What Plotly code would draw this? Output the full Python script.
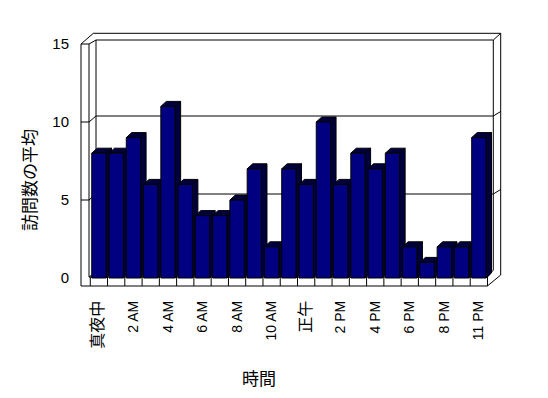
import plotly.graph_objects as go

# ---- data ----
categories = ["真夜中", "1 AM", "2 AM", "3 AM", "4 AM", "5 AM", "6 AM", "7 AM",
              "8 AM", "9 AM", "10 AM", "11 AM", "正午", "1 PM", "2 PM", "3 PM",
              "4 PM", "5 PM", "6 PM", "7 PM", "8 PM", "9 PM", "11 PM"]
visits = [8, 8, 9, 6, 11, 6, 4, 4, 5, 7, 2, 7, 6, 10, 6, 8, 7, 8, 2, 1, 2, 2, 9]
y_ticks = [0, 5, 10, 15]
x_title = "時間"
y_title = "訪問数の平均"

# ---- geometry (screen pixels; page body has an 8px margin) ----
PAGE_OFF = 8
W, H = 548 - PAGE_OFF, 398 - PAGE_OFF
L, R, T, B = 80, 502, 30, 290
X0PX, XSTEP = 98.9, 17.27
Y0PX, YSTEP = 278.0, 15.6


def px2x(px):
    return (px - X0PX) / XSTEP


def py2y(py):
    return (Y0PX - py) / YSTEP


xr = [px2x(L), px2x(R)]
yr = [py2y(B), py2y(T)]
n = len(visits)
BW = 14.3 / XSTEP
DX = 5.5 / XSTEP
DY = 5.0 / YSTEP
FRONT = "#000080"
DARK = "#00003c"

# side and top faces (computed from values)
sx, sy, tx, ty = [], [], [], []
for i, v in enumerate(visits):
    x0, x1 = i - BW / 2, i + BW / 2
    sx += [x1, x1 + DX, x1 + DX, x1, x1, None]
    sy += [0, DY, v + DY, v, 0, None]
    tx += [x0, x0 + DX, x1 + DX, x1, x0, None]
    ty += [v, v + DY, v + DY, v, v, None]

fig = go.Figure()
fig.add_trace(go.Scatter(x=sx, y=sy, mode="lines", fill="toself", fillcolor=DARK,
                         line=dict(color="black", width=1), hoverinfo="skip",
                         showlegend=False, xaxis="x", yaxis="y"))
fig.add_trace(go.Scatter(x=tx, y=ty, mode="lines", fill="toself", fillcolor=DARK,
                         line=dict(color="black", width=1), hoverinfo="skip",
                         showlegend=False, xaxis="x", yaxis="y"))
fig.add_trace(go.Bar(x=list(range(n)), y=visits, width=BW,
                     marker=dict(color=FRONT, line=dict(color="black", width=1)),
                     showlegend=False, xaxis="x2", yaxis="y2"))

# ---- 3D frame (decoration) ----
segs = [
    ((81, 44), (81, 286)), ((89, 44), (89, 277)), ((81, 44), (89, 44)),
    ((81, 44), (93.3, 33.3)), ((89, 44), (96, 40)), ((96, 40), (96, 272)),
    ((96, 272), (89, 277)),
    ((93.3, 33.3), (500.7, 33.3)), ((96, 40), (493.3, 40)),
    ((493.3, 40), (500.7, 33.3)),
    ((493.3, 40), (493.3, 270)), ((493.3, 270), (487.4, 277)),
    ((500.7, 33.3), (500.7, 275)), ((500.7, 275), (487.4, 286)),
    ((89, 277), (487.4, 277)), ((81, 286), (487.4, 286)),
]
for v in y_ticks[1:-1]:
    yf = Y0PX - YSTEP * v
    yb = yf - 6
    segs += [((81, yf), (89, yf)), ((89, yf), (96, yb)),
             ((96, yb), (493.3, yb)), ((493.3, yb), (500.7, yb - 4.5))]

shapes = []
for (a, b) in segs:
    shapes.append(dict(type="line", xref="x", yref="y", layer="below",
                       x0=px2x(a[0]), y0=py2y(a[1]), x1=px2x(b[0]), y1=py2y(b[1]),
                       line=dict(color="black", width=1)))
for k in range(n + 1):
    xk = k - 0.5
    shapes.append(dict(type="line", xref="x", yref="y", layer="below",
                       x0=xk, x1=xk, y0=py2y(277), y1=py2y(286),
                       line=dict(color="black", width=1)))

tick_idx = list(range(0, n, 2))
ticktext = []
for i in tick_idx:
    c = categories[i]
    if any(ord(ch) > 0x3000 for ch in c):
        ticktext.append('<span style="font-size:16px">%s</span>' % c)
    else:
        ticktext.append(c)

FONT = "Liberation Sans, Arial, Noto Sans CJK JP"
fig.update_layout(
    width=W, height=H, autosize=False,
    margin=dict(l=L - PAGE_OFF, r=W - (R - PAGE_OFF), t=T - PAGE_OFF,
                b=H - (B - PAGE_OFF), pad=0),
    plot_bgcolor="white", paper_bgcolor="white",
    font=dict(family=FONT, size=14, color="black"),
    shapes=shapes,
    xaxis=dict(range=xr, tickvals=tick_idx, ticktext=ticktext, tickangle=-90,
               showgrid=False, zeroline=False, showline=False, ticks="",
               automargin=False, ticklabelstandoff=7,
               tickfont=dict(family=FONT, size=14)),
    yaxis=dict(range=yr, tickvals=y_ticks, showgrid=False, zeroline=False,
               showline=False, ticks="", automargin=False, ticklabelstandoff=10,
               tickfont=dict(family=FONT, size=15)),
    xaxis2=dict(range=xr, overlaying="x", anchor="y2", visible=False),
    yaxis2=dict(range=yr, overlaying="y", anchor="x2", visible=False),
    annotations=[
        dict(text=x_title, xref="paper", yref="paper", showarrow=False,
             xanchor="center", yanchor="middle",
             x=(259 - L) / (R - L), y=(B - 377) / (B - T),
             font=dict(family="Noto Sans CJK JP", size=17)),
        dict(text=y_title, xref="paper", yref="paper", showarrow=False,
             xanchor="center", yanchor="middle",
             textangle=-90, x=(28 - L) / (R - L), y=(B - 180) / (B - T),
             font=dict(family="Noto Sans CJK JP", size=17)),
    ],
)

fig.write_html("out.html")
